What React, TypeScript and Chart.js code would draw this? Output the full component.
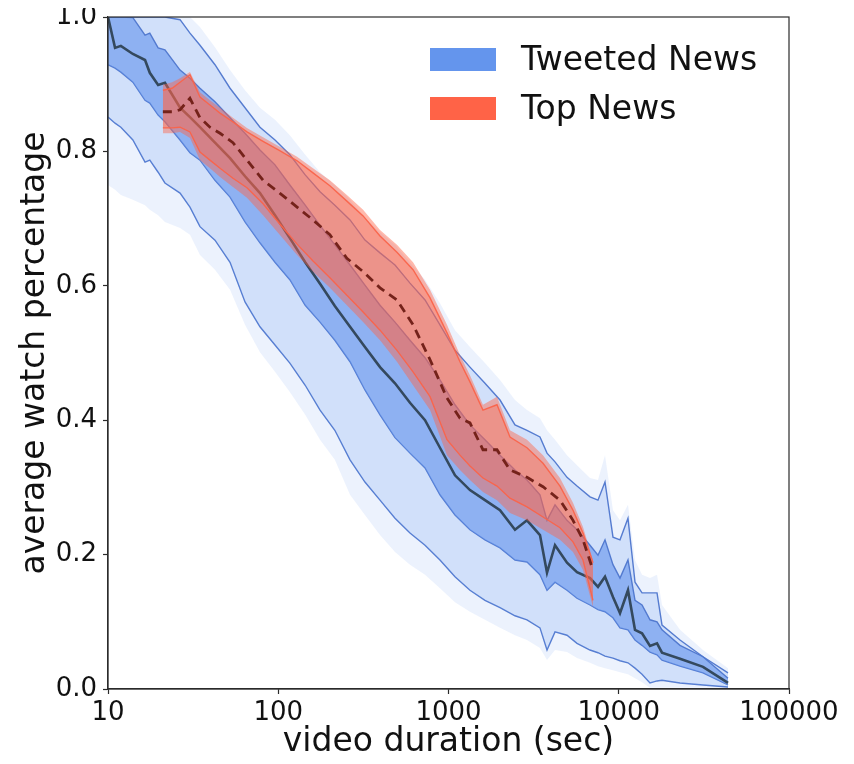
import React, { useEffect, useRef } from 'react';
import { Chart, registerables } from 'chart.js';

Chart.register(...registerables);

// Video duration (sec) sample points for the tweeted-news fan
const blueDuration = [
  10, 11, 11.9, 14, 16.5, 17.6, 19.7, 21.6,
  26.5, 30.3, 34.7, 42.5, 52.1, 63.8, 78.1, 95.7,
  117, 144, 176, 215, 264, 323, 396, 485,
  594, 728, 891, 1092, 1337, 1638, 2007, 2458,
  2891, 3446, 3790, 4223, 4967, 5686, 6779, 7551,
  8304, 9250, 10170, 11330, 12460, 13700, 15260, 16780,
  17950, 22900, 31250, 43830,
];

// Tweeted News: outermost envelope (upper / lower)
const blueEnvHigh = [
  1.0, 1.0, 1.0, 1.0, 1.0, 1.0, 1.0, 1.0,
  1.0, 1.0, 0.985, 0.955, 0.921, 0.891, 0.865, 0.847,
  0.824, 0.795, 0.769, 0.75, 0.728, 0.701, 0.68, 0.661,
  0.635, 0.609, 0.574, 0.534, 0.509, 0.485, 0.46, 0.43,
  0.415, 0.403, 0.385, 0.371, 0.348, 0.333, 0.314, 0.311,
  0.348, 0.266, 0.251, 0.274, 0.192, 0.17, 0.165, 0.17,
  0.125, 0.088, 0.058, 0.031,
];
const blueEnvLow = [
  0.75, 0.743, 0.735, 0.728, 0.72, 0.713, 0.705, 0.695,
  0.686, 0.676, 0.646, 0.624, 0.594, 0.542, 0.501, 0.472,
  0.442, 0.408, 0.371, 0.341, 0.289, 0.259, 0.229, 0.204,
  0.185, 0.17, 0.15, 0.129, 0.115, 0.103, 0.091, 0.08,
  0.073, 0.061, 0.043, 0.058, 0.055, 0.046, 0.039, 0.034,
  0.031, 0.028, 0.025, 0.022, 0.016, 0.01, 0.002, 0.002,
  0.002, 0.002, 0.002, 0.002,
];
// Tweeted News: outer percentile lines
const blueP95 = [
  1.0, 1.0, 1.0, 1.0, 1.0, 1.0, 1.0, 1.0,
  0.996, 0.976, 0.958, 0.929, 0.894, 0.865, 0.836, 0.817,
  0.795, 0.765, 0.74, 0.72, 0.698, 0.668, 0.649, 0.631,
  0.604, 0.579, 0.542, 0.504, 0.479, 0.455, 0.43, 0.393,
  0.385, 0.375, 0.351, 0.338, 0.315, 0.302, 0.286, 0.281,
  0.308, 0.226, 0.222, 0.254, 0.159, 0.143, 0.143, 0.143,
  0.095, 0.073, 0.048, 0.024,
];
const blueP5 = [
  0.851, 0.842, 0.836, 0.817, 0.784, 0.787, 0.769, 0.753,
  0.738, 0.717, 0.688, 0.668, 0.635, 0.576, 0.539, 0.512,
  0.485, 0.452, 0.415, 0.385, 0.341, 0.308, 0.281, 0.254,
  0.232, 0.214, 0.192, 0.167, 0.147, 0.132, 0.121, 0.109,
  0.103, 0.091, 0.058, 0.085, 0.08, 0.068, 0.058, 0.054,
  0.049, 0.046, 0.042, 0.039, 0.031, 0.022, 0.009, 0.012,
  0.013, 0.009, 0.006, 0.003,
];
// Tweeted News: inner percentile lines
const blueP75 = [
  1.0, 1.0, 1.0, 0.999, 0.973, 0.976, 0.954, 0.951,
  0.921, 0.909, 0.894, 0.874, 0.85, 0.827, 0.802, 0.78,
  0.75, 0.72, 0.69, 0.661, 0.631, 0.601, 0.571, 0.546,
  0.519, 0.493, 0.46, 0.423, 0.393, 0.371, 0.348, 0.326,
  0.311, 0.289, 0.251, 0.274, 0.251, 0.237, 0.214, 0.199,
  0.222, 0.185, 0.165, 0.192, 0.132, 0.125, 0.103, 0.1,
  0.088, 0.065, 0.048, 0.016,
];
const blueP25 = [
  0.929, 0.924, 0.918, 0.903, 0.876, 0.872, 0.854, 0.844,
  0.817, 0.798, 0.787, 0.757, 0.732, 0.695, 0.664, 0.635,
  0.609, 0.571, 0.546, 0.519, 0.487, 0.445, 0.408, 0.374,
  0.351, 0.329, 0.289, 0.259, 0.237, 0.222, 0.21, 0.192,
  0.189, 0.17, 0.147, 0.159, 0.147, 0.135, 0.125, 0.118,
  0.115, 0.106, 0.091, 0.088, 0.073, 0.065, 0.055, 0.051,
  0.043, 0.034, 0.024, 0.006,
];
const blueMedian = [
  1.0, 0.954, 0.957, 0.945, 0.936, 0.917, 0.899, 0.902,
  0.865, 0.851, 0.836, 0.813, 0.79, 0.763, 0.738, 0.705,
  0.671, 0.635, 0.603, 0.57, 0.539, 0.509, 0.479, 0.455,
  0.426, 0.4, 0.359, 0.318, 0.296, 0.281, 0.266, 0.237,
  0.251, 0.229, 0.173, 0.214, 0.188, 0.174, 0.165, 0.152,
  0.167, 0.137, 0.113, 0.147, 0.088, 0.083, 0.064, 0.068,
  0.054, 0.045, 0.033, 0.009,
];

// Video duration (sec) sample points for the top-news fan
const redDuration = [
  21.0, 23.8, 26.5, 30.3, 34.7, 39.7, 45.5, 54.2,
  65.5, 81.4, 102, 129, 160, 201, 253, 315,
  396, 498, 619, 779, 980, 1168, 1337, 1594,
  1927, 2297, 2891, 3590, 4517, 5386, 6166, 7058,
];
const redEnvHigh = [
  0.899, 0.903, 0.909, 0.918, 0.888, 0.876, 0.865, 0.85,
  0.835, 0.821, 0.807, 0.792, 0.775, 0.757, 0.735, 0.713,
  0.683, 0.661, 0.635, 0.594, 0.542, 0.497, 0.467, 0.423,
  0.435, 0.385, 0.371, 0.348, 0.314, 0.277, 0.241, 0.192,
];
const redEnvLow = [
  0.827, 0.827, 0.829, 0.82, 0.787, 0.775, 0.762, 0.747,
  0.731, 0.705, 0.676, 0.646, 0.621, 0.597, 0.571, 0.546,
  0.519, 0.487, 0.452, 0.415, 0.348, 0.326, 0.311, 0.293,
  0.281, 0.262, 0.251, 0.237, 0.222, 0.204, 0.177, 0.122,
];
const redInnerHigh = [
  0.891, 0.894, 0.903, 0.914, 0.881, 0.869, 0.857, 0.844,
  0.829, 0.815, 0.801, 0.786, 0.768, 0.749, 0.726, 0.704,
  0.674, 0.65, 0.624, 0.582, 0.53, 0.487, 0.457, 0.415,
  0.423, 0.375, 0.359, 0.336, 0.302, 0.266, 0.232, 0.188,
];
const redInnerLow = [
  0.835, 0.835, 0.836, 0.829, 0.799, 0.787, 0.775, 0.76,
  0.746, 0.722, 0.692, 0.662, 0.637, 0.612, 0.586, 0.561,
  0.534, 0.504, 0.472, 0.435, 0.371, 0.348, 0.332, 0.314,
  0.302, 0.284, 0.271, 0.256, 0.24, 0.219, 0.192, 0.132,
];
const redMedian = [
  0.859, 0.859, 0.862, 0.879, 0.85, 0.836, 0.827, 0.813,
  0.787, 0.757, 0.738, 0.717, 0.698, 0.676, 0.641, 0.621,
  0.597, 0.579, 0.542, 0.49, 0.433, 0.403, 0.396, 0.356,
  0.356, 0.326, 0.315, 0.301, 0.281, 0.251, 0.222, 0.177,
];

const xTickValues = [10, 100, 1000, 10000, 100000];
const xTickLabels = ['10', '100', '1000', '10000', '100000'];
const yTickValues = [0, 0.2, 0.4, 0.6, 0.8, 1.0];
const legendLabels = ['Tweeted News', 'Top News'];
const legendColors = ['#6495ED', '#FF6347'];

const FONT = "'DejaVu Sans', 'Liberation Sans', sans-serif";

const pts = (xs: number[], ys: number[]) => xs.map((x, i) => ({ x, y: ys[i] }));

const hidden = 'rgba(0,0,0,0)';

const frameAndLegend = {
  id: 'frameAndLegend',
  afterDraw(chart: any) {
    const { ctx, chartArea } = chart;
    ctx.save();
    ctx.strokeStyle = '#2b2b2b';
    ctx.lineWidth = 1.2;
    ctx.strokeRect(chartArea.left, chartArea.top, chartArea.right - chartArea.left, chartArea.bottom - chartArea.top);

    const boxX = chartArea.left + 322;
    const textX = chartArea.left + 413;
    const rowTop = [chartArea.top + 31, chartArea.top + 80];
    ctx.font = `33px ${FONT}`;
    ctx.textBaseline = 'middle';
    ctx.textAlign = 'left';
    legendLabels.forEach((label, i) => {
      ctx.fillStyle = legendColors[i];
      ctx.fillRect(boxX, rowTop[i], 66, 23);
      ctx.fillStyle = '#111';
      ctx.fillText(label, textX, rowTop[i] + 13);
    });
    ctx.restore();
  },
};

export default function App() {
  const canvasRef = useRef<HTMLCanvasElement | null>(null);

  useEffect(() => {
    if (!canvasRef.current) return;
    const lineBase = { pointRadius: 0, tension: 0, spanGaps: true };
    const blueLine = 'rgba(78,118,205,0.95)';
    const redLine = 'rgba(250,100,75,0.95)';

    const chart = new Chart(canvasRef.current, {
      type: 'line',
      data: {
        datasets: [
          { ...lineBase, data: pts(blueDuration, blueEnvHigh), borderColor: hidden, borderWidth: 0.01, fill: 1, backgroundColor: 'rgba(100,149,237,0.12)', order: 10 },
          { ...lineBase, data: pts(blueDuration, blueEnvLow), borderColor: hidden, borderWidth: 0.01, fill: false, order: 10 },
          { ...lineBase, data: pts(blueDuration, blueP95), borderColor: blueLine, borderWidth: 1.4, fill: 3, backgroundColor: 'rgba(100,149,237,0.2)', order: 9 },
          { ...lineBase, data: pts(blueDuration, blueP5), borderColor: blueLine, borderWidth: 1.4, fill: false, order: 9 },
          { ...lineBase, data: pts(blueDuration, blueP75), borderColor: blueLine, borderWidth: 1.4, fill: 5, backgroundColor: 'rgba(100,149,237,0.62)', order: 8 },
          { ...lineBase, data: pts(blueDuration, blueP25), borderColor: blueLine, borderWidth: 1.4, fill: false, order: 8 },
          { ...lineBase, data: pts(blueDuration, blueMedian), borderColor: '#34495e', borderWidth: 2.6, fill: false, order: 7 },
          { ...lineBase, data: pts(redDuration, redEnvHigh), borderColor: hidden, borderWidth: 0.01, fill: 8, backgroundColor: 'rgba(255,99,71,0.45)', order: 5 },
          { ...lineBase, data: pts(redDuration, redEnvLow), borderColor: hidden, borderWidth: 0.01, fill: false, order: 5 },
          { ...lineBase, data: pts(redDuration, redInnerHigh), borderColor: redLine, borderWidth: 1.4, fill: 10, backgroundColor: 'rgba(255,99,71,0.3)', order: 4 },
          { ...lineBase, data: pts(redDuration, redInnerLow), borderColor: redLine, borderWidth: 1.4, fill: false, order: 4 },
          { ...lineBase, data: pts(redDuration, redMedian), borderColor: '#74221a', borderWidth: 2.8, borderDash: [9, 6], fill: false, order: 1 },
        ],
      },
      options: {
        animation: false,
        responsive: false,
        events: [],
        layout: { padding: { left: 0, right: 57, top: 9, bottom: 0 } },
        plugins: {
          legend: { display: false },
          tooltip: { enabled: false },
        },
        scales: {
          x: {
            type: 'logarithmic',
            min: 10,
            max: 100000,
            afterBuildTicks: (axis: any) => {
              axis.ticks = xTickValues.map((v) => ({ value: v }));
            },
            afterFit: (axis: any) => {
              axis.height = 67;
            },
            ticks: {
              autoSkip: false,
              maxRotation: 0,
              padding: 4,
              color: '#111',
              font: { family: FONT, size: 26 },
              callback: (v: any) => xTickLabels[xTickValues.indexOf(Number(v))] ?? '',
            },
            grid: { drawOnChartArea: false, drawTicks: true, tickLength: 5, color: '#2b2b2b', tickWidth: 1.2 },
            border: { display: true, color: '#2b2b2b', width: 1.2 },
            title: {
              display: true,
              text: 'video duration (sec)',
              color: '#111',
              font: { family: FONT, size: 33, lineHeight: 0.8 },
              padding: { top: 0, bottom: 0 },
            },
          },
          y: {
            type: 'linear',
            min: 0,
            max: 1,
            afterBuildTicks: (axis: any) => {
              axis.ticks = yTickValues.map((v) => ({ value: v }));
            },
            afterFit: (axis: any) => {
              axis.width = 100;
              axis.paddingTop = 0;
              axis.paddingBottom = 0;
            },
            ticks: {
              padding: 6,
              color: '#111',
              font: { family: FONT, size: 26 },
              callback: (v: any) => Number(v).toFixed(1),
            },
            grid: { drawOnChartArea: false, drawTicks: true, tickLength: 5, color: '#2b2b2b', tickWidth: 1.2 },
            border: { display: true, color: '#2b2b2b', width: 1.2 },
            title: {
              display: true,
              text: 'average watch percentage',
              color: '#111',
              font: { family: FONT, size: 33, lineHeight: 1 },
              padding: { top: 11, bottom: 0 },
            },
          },
        },
      } as any,
      plugins: [frameAndLegend],
    });

    return () => chart.destroy();
  }, []);

  return (
    <div style={{ width: 838, height: 748 }}>
      <canvas ref={canvasRef} width={838} height={748} style={{ display: 'block' }} />
    </div>
  );
}
